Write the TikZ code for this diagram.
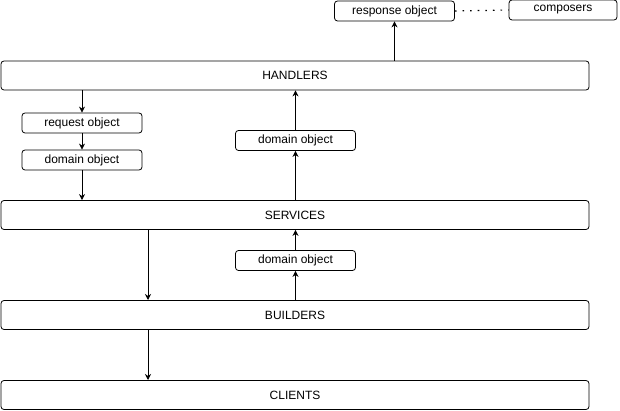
\documentclass[tikz,border=0pt]{standalone}
\usepackage{fontspec}
\setmainfont{Liberation Sans}
\usetikzlibrary{arrows.meta}

\tikzset{
  layer/.style={draw, rounded corners=3pt, minimum width=588pt, minimum height=29pt, inner sep=0pt},
  objbox/.style={draw, rounded corners=3pt, minimum width=120pt, minimum height=20pt, inner sep=0pt},
  flow/.style={-{Stealth[length=6pt,width=6pt]}, line width=0.8pt}
}

\begin{document}
\begin{tikzpicture}[x=1pt, y=-1pt, line width=0.8pt, font=\fontsize{12}{14}\selectfont]

\useasboundingbox (0,0) rectangle (620,411);

% -------- layers -----------
\node[layer] (handlers) at (295, 75.5) {HANDLERS};
\node[layer] (services) at (295, 215)  {SERVICES};
\node[layer] (builders) at (295, 315)  {BUILDERS};
\node[layer] (clients)  at (295, 395)  {CLIENTS};

% -------- objects -----------
\node[objbox] (request) at (82, 123)    {request object};
\node[objbox] (domainA) at (82, 160)    {domain object};
\node[objbox] (domainB) at (295.5, 140.5) {domain object};
\node[objbox] (domainC) at (295.5, 260.5) {domain object};
\node[objbox] (response) at (394.5, 11) {response object};
\node[objbox, minimum width=108pt] (composers) at (563, 10) {composers};

\coordinate (downA) at (148, 230);
\coordinate (downB) at (148, 300);
\coordinate (downC) at (148, 330);
\coordinate (downD) at (148, 380);

% -------- arrows -----------
\draw[flow] (request |- handlers.south) -- (request.north);
\draw[flow] (request) -- (domainA);
\draw[flow] (domainA.south) -- (domainA |- services.north);

\draw[flow] (domainC |- builders.north) -- (domainC.south);
\draw[flow] (domainC.north) -- (domainC |- services.south);
\draw[flow] (domainB |- services.north) -- (domainB.south);
\draw[flow] (domainB.north) -- (domainB |- handlers.south);

\draw[flow] (downA) -- (downB);
\draw[flow] (downC) -- (downD);

\draw[flow] (response |- handlers.north) -- (response.south);
\draw[dash pattern=on 1.6pt off 6pt, line width=1.2pt] (response.east) -- (composers.west);

\end{tikzpicture}
\end{document}
